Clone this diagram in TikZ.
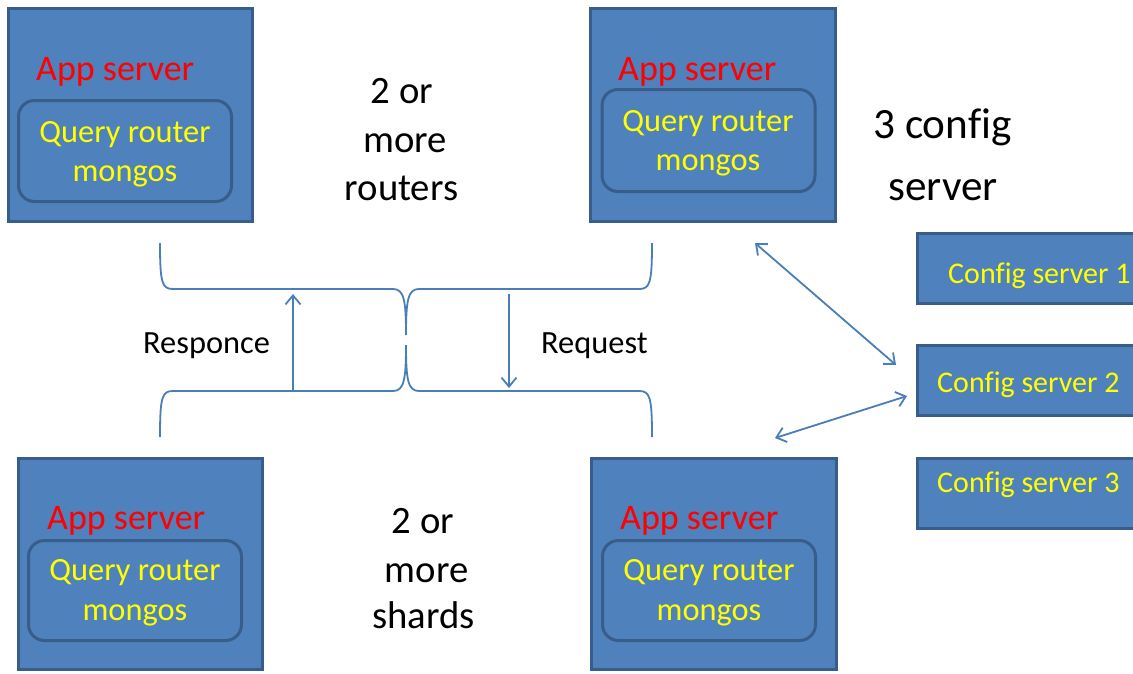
\documentclass[tikz,border=0pt]{standalone}
\usepackage{fontspec}
\setmainfont[Ligatures=NoCommon]{Carlito}
\usetikzlibrary{arrows.meta}
\definecolor{boxfill}{HTML}{4F81BD}
\definecolor{boxline}{HTML}{385D8A}
\definecolor{wire}{HTML}{4A7EBB}
\definecolor{appred}{HTML}{FF0000}
\definecolor{qyellow}{HTML}{FFFF00}
\tikzset{
  serverbox/.style={draw=boxline, fill=boxfill, line width=3pt, inner sep=0pt},
  routerbox/.style={draw=boxline, fill=boxfill, line width=3pt, inner sep=0pt,
    rounded corners=16pt, minimum width=213pt},
  cfgbox/.style={draw=boxline, fill=boxfill, line width=3pt, inner sep=0pt,
    minimum width=243pt, minimum height=70pt},
  apptext/.style={anchor=base west, inner sep=0pt, text=appred,
    font=\fontsize{36}{43}\selectfont},
  qtext/.style={anchor=base, inner sep=0pt, text=qyellow,
    font=\fontsize{32.4}{39}\selectfont},
  cfgtext/.style={anchor=base west, inner sep=0pt, text=qyellow,
    font=\fontsize{30}{36}\selectfont},
  sidetext/.style={anchor=base, inner sep=0pt, text=black,
    font=\fontsize{38.7}{46}\selectfont},
  cfglabel/.style={anchor=base, inner sep=0pt, text=black,
    font=\fontsize{43.2}{52}\selectfont},
  flowtext/.style={anchor=base west, inner sep=0pt, text=black,
    font=\fontsize{32.4}{39}\selectfont},
  wireline/.style={draw=wire, line width=1.8pt},
  flowarrow/.style={wireline, -{Straight Barb[length=9pt, width=15pt, line width=1.8pt]}},
  syncarrow/.style={wireline, {Straight Barb[length=9pt, width=15pt, line width=1.8pt]}-{Straight Barb[length=9pt, width=15pt, line width=1.8pt]}}
}
\begin{document}
\begin{tikzpicture}[x=1pt, y=-1pt]
\clip (0,0) rectangle (1133,673);
\fill[white] (0,0) rectangle (1133,673);

% ---- application servers (routers on top, shards below) ----
\node[serverbox, minimum width=244pt, minimum height=213pt] (tl) at (130.5,115) {};
\node[serverbox, minimum width=245pt, minimum height=213pt] (tr) at (713,115) {};
\node[serverbox, minimum width=244pt, minimum height=211pt] (bl) at (140.5,564) {};
\node[serverbox, minimum width=245pt, minimum height=211pt] (br) at (714,564) {};

\node[routerbox, minimum height=101pt] (tlq) at (125,151) {};
\node[routerbox, minimum height=102pt] (trq) at (708.5,140.5) {};
\node[routerbox, minimum height=100pt] (blq) at (135,590.5) {};
\node[routerbox, minimum height=100pt] (brq) at (709,590.5) {};

\node[apptext] (tla) at (36,80) {App server};
\node[apptext] (tra) at (618,80) {App server};
\node[apptext] (bla) at (47,529) {App server};
\node[apptext] (bra) at (620,529) {App server};

\node[qtext] (tlq1) at (125,142) {Query router};
\node[qtext] (tlq2) at (125,181) {mongos};
\node[qtext] (trq1) at (708,131) {Query router};
\node[qtext] (trq2) at (708,170) {mongos};
\node[qtext] (blq1) at (135,580) {Query router};
\node[qtext] (blq2) at (135,620) {mongos};
\node[qtext] (brq1) at (709,580) {Query router};
\node[qtext] (brq2) at (709,620) {mongos};

% ---- side captions ----
\node[sidetext] (rt1) at (402,103) {2 or};
\node[sidetext] (rt2) at (405,152) {more};
\node[sidetext] (rt3) at (401.5,200) {routers};
\node[sidetext] (sh1) at (423,533) {2 or};
\node[sidetext] (sh2) at (426.5,582) {more};
\node[sidetext] (sh3) at (423.5,628) {shards};
\node[cfglabel] (cl1) at (942.5,138) {3 config};
\node[cfglabel] (cl2) at (943,200) {server};

% ---- config servers ----
\node[cfgbox] (cfg1) at (1039,268.5) {};
\node[cfgbox] (cfg2) at (1039,380.5) {};
\node[cfgbox] (cfg3) at (1039,493.5) {};
\node[cfgtext] (cfg1t) at (948,283) {Config server 1};
\node[cfgtext] (cfg2t) at (937,392) {Config server 2};
\node[cfgtext] (cfg3t) at (937,492) {Config server 3};

% ---- braces gathering the routers and the shards ----
\draw[wireline] (160,243) .. controls (160,283) and (162,289) .. (173,289)
  -- (393,289) .. controls (404,289) and (406,300) .. (406,335)
  .. controls (406,300) and (408,289) .. (419,289)
  -- (639,289) .. controls (650,289) and (652,283) .. (652,243);
\draw[wireline] (160,437) .. controls (160,397) and (162,391) .. (173,391)
  -- (393,391) .. controls (404,391) and (406,380) .. (406,345)
  .. controls (406,380) and (408,391) .. (419,391)
  -- (639,391) .. controls (650,391) and (652,397) .. (652,437);

% ---- request / response flow ----
\coordinate (respFrom) at (293,390);
\coordinate (respTo) at (293,294);
\coordinate (reqFrom) at (509,294);
\coordinate (reqTo) at (509,388);
\draw[flowarrow] (respFrom) -- (respTo);
\draw[flowarrow] (reqFrom) -- (reqTo);
\node[flowtext] (resp) at (143,353) {Responce};
\node[flowtext] (req) at (541,353) {Request};

% ---- links to the config servers ----
\coordinate (trLink) at (755,243);
\coordinate (cfgTopLink) at (896,365);
\coordinate (brLink) at (775,438);
\coordinate (cfgLowLink) at (907,396);
\draw[syncarrow] (trLink) -- (cfgTopLink);
\draw[syncarrow] (brLink) -- (cfgLowLink);
\end{tikzpicture}
\end{document}
